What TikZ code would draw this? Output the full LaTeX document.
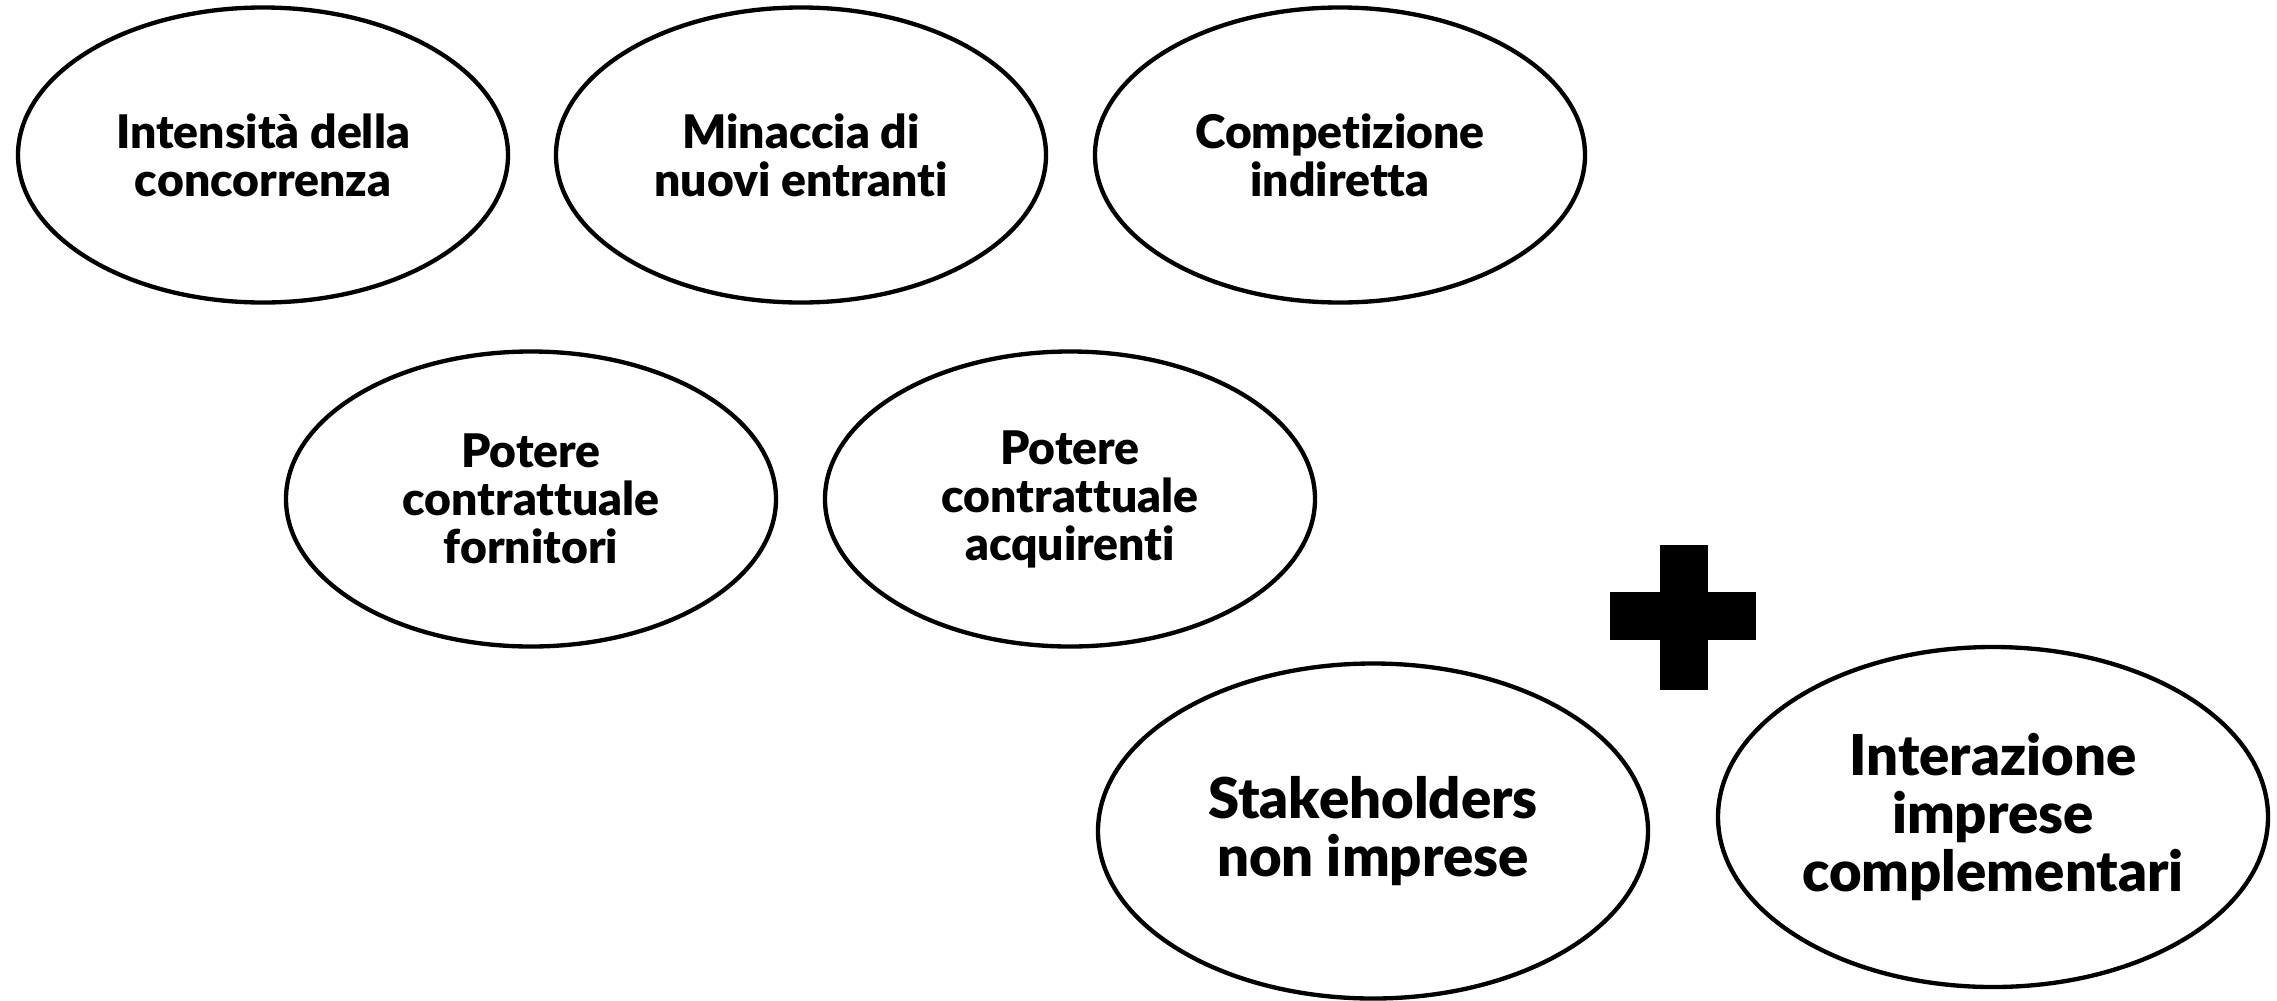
\documentclass[tikz,border=0pt]{standalone}
\usepackage{fontspec}
\setmainfont{Lato}[BoldFont={Lato Black},Ligatures=NoCommon]
\usetikzlibrary{shapes.geometric}
\begin{document}
\begin{tikzpicture}[x=0.03cm,y=-0.03cm,
  oval/.style={ellipse, draw=black, line width=0.13cm, fill=white, inner sep=0pt, align=center,
    minimum width=14.7cm, minimum height=8.85cm,
    font=\fontsize{39.5}{41}\selectfont\bfseries},
  bigoval/.style={oval, minimum width=16.5cm, minimum height=10.05cm,
    font=\fontsize{48}{49.5}\selectfont\bfseries}]
\useasboundingbox (0,0) rectangle (2277,1000);
\node[oval] (e1) at (263,155) {Intensità della\\concorrenza};
\node[oval] (e2) at (801,155) {Minaccia di\\nuovi entranti};
\node[oval] (e3) at (1340,155) {Competizione\\indiretta};
\node[oval] (e4) at (531,499) {Potere\\contrattuale\\fornitori};
\node[oval] (e5) at (1070,499) {Potere\\contrattuale\\acquirenti};
\node[bigoval] (e6) at (1373,831) {Stakeholders\\non imprese};
\node[bigoval, minimum height=10.2cm] (e7) at (1993,817) {Interazione\\imprese\\complementari};
\fill (1660,545) rectangle (1708,690);
\fill (1610,592) rectangle (1756,640);
\end{tikzpicture}
\end{document}
